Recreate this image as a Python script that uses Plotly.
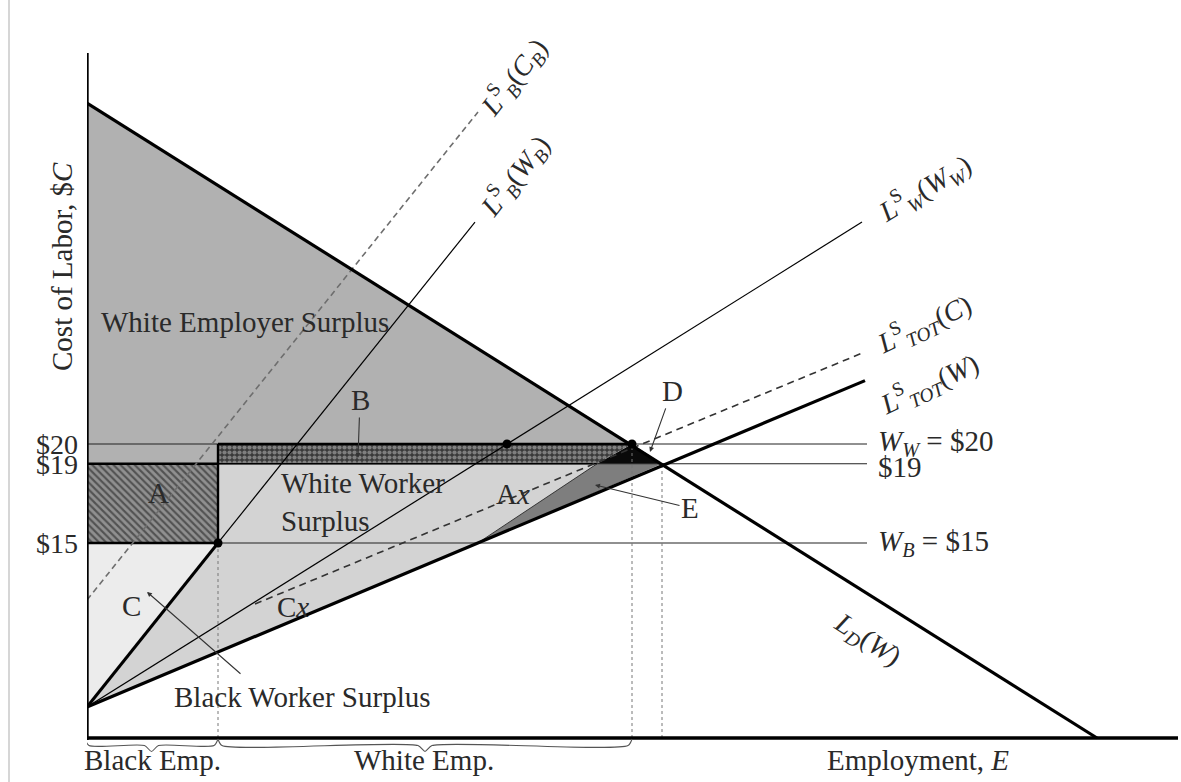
import numpy as np
import plotly.graph_objects as go

# ---------------- data (cost in $, employment in arbitrary units) ----------------
C_AXIS = 5.15          # cost level at which the employment axis is drawn
C_TOP = 39.75          # top of the cost axis
E_RIGHT = 54.55        # right end of the employment axis

wage_levels = [20, 19, 15]
wage_tick_text = ["$20", "$19", "$15"]
wage_right_text = ["<i>W<sub>W</sub></i> = $20", "$19", "<i>W<sub>B</sub></i> = $15"]
wage_right_pos = [20.05, 18.85, 15.0]
E_wage_line_end = 39.0

E_black = 6.55         # black employment
E_white = 27.25        # demand meets $20
E_total = 28.75        # demand meets $19
E_d = 25.5             # L_TOT(C) meets $19

demand_E = [0.0, 50.5]
demand_C = [37.22, 5.15]

LBW_E = [0.0, 6.55, 19.4]       # L_B^S(W_B)
LBW_C = [6.72, 15.0, 31.21]
LBC_E = [0.0, 19.55]            # L_B^S(C_B)
LBC_C = [12.12, 36.77]
LW_E = [0.0, 38.75]             # L_W^S(W_W)
LW_C = [6.72, 31.21]
LTW_E = [0.0, 38.9]             # L_TOT^S(W)
LTW_C = [6.72, 23.2]
LTC_E = [8.4, 38.9]             # L_TOT^S(C)
LTC_C = [11.92, 24.65]

dots_E = [6.55, 21.0, 27.25]
dots_C = [15.0, 20.0, 20.0]

# apex of the "Ax" triangle: where L_TOT^S(W) meets $15
E_ax = float(np.interp(15.0, LTW_C, LTW_E))

FONT = "Liberation Serif"
TXT = "#2a2a2a"
FS = 29
FS_CURVE = 28

fig = go.Figure()


def poly(xs, ys, color, pattern=None):
    kw = dict(x=xs + [xs[0]], y=ys + [ys[0]], mode="lines", fill="toself",
              fillcolor=color, line=dict(width=0), hoverinfo="skip")
    if pattern:
        kw["fillpattern"] = pattern
    fig.add_trace(go.Scatter(**kw))


def line(xs, ys, width=1.2, color="black", dash=None, shape="linear"):
    fig.add_trace(go.Scatter(x=xs, y=ys, mode="lines",
                             line=dict(width=width, color=color, dash=dash, shape=shape,
                                       smoothing=0.7),
                             hoverinfo="skip"))


# ---------------- shaded areas ----------------
# White employer surplus
poly([0, E_white, E_black, E_black, 0], [demand_C[0], 20, 20, 19, 19], "#b1b1b1")
# C: light triangle (black worker surplus)
poly([0, E_black, 0], [15, 15, LBW_C[0]], "#ececec")
# White worker surplus (and black worker surplus between supplies)
poly([0, E_black, E_black, E_d, E_ax], [LTW_C[0], 15, 19, 19, 15], "#d3d3d3")
# E: dark triangle
poly([E_ax, E_d, E_total], [15, 19, 19], "#7e7e7e")
# D: black triangle
poly([E_d, E_white, E_total], [19, 20, 19], "#0a0a0a")
# A: hatched rectangle
poly([0, E_black, E_black, 0], [19, 19, 15, 15], "#8a8a8a",
     pattern=dict(shape="\\", bgcolor="#909090", fgcolor="#141414", size=5, solidity=0.42))
# B: dotted band
poly([E_black, E_white, E_d, E_black], [20, 20, 19, 19], "#3a3a3a",
     pattern=dict(shape=".", bgcolor="#3a3a3a", fgcolor="#c4c4c4", size=5, solidity=0.55))

# ---------------- guide lines ----------------
for w in wage_levels:
    line([0, E_wage_line_end], [w, w], width=1.1, color="#222")

line([E_black, E_black], [C_AXIS, 15], width=1, color="#777", dash="dot")
line([E_white, E_white], [C_AXIS, 20], width=1, color="#777", dash="dot")
line([E_total, E_total], [C_AXIS, 19], width=1, color="#777", dash="dot")

# borders of A and B
line([0, E_black], [19, 19], width=2.4)
line([0, E_black], [15, 15], width=2.4)
line([E_black, E_black], [15, 20], width=2.4)
line([E_black, E_white], [20, 20], width=2.6)
line([E_black, E_d], [19, 19], width=1.6)
line([E_ax, E_d], [15, 19], width=1.0, color="#333")

# ---------------- curves ----------------
line(LBC_E, LBC_C, width=1.6, color="#6e6e6e", dash="6px,4px")
line(LTC_E, LTC_C, width=1.6, color="#333", dash="7px,5px")
line(LW_E, LW_C, width=1.2)
line(LBW_E[:2], LBW_C[:2], width=3)
line(LBW_E[1:], LBW_C[1:], width=1.2)
line(LTW_E, LTW_C, width=3.2)
line(demand_E, demand_C, width=3.2)

# axes
line([0, 0], [C_AXIS - 0.1, C_TOP], width=3.4)
line([0, E_RIGHT], [C_AXIS, C_AXIS], width=3.4)


# braces under the employment axis
def brace(e0, e1):
    m = (e0 + e1) / 2
    ca, cb, cc = C_AXIS - 0.05, C_AXIS - 0.38, C_AXIS - 0.68
    xs = [e0, e0 + 0.2, m - 0.35, m, m + 0.35, e1 - 0.2, e1]
    ys = [ca, cb, cb, cc, cb, cb, ca]
    line(xs, ys, width=1.1, color="#555", shape="spline")


brace(-0.1, E_black)
brace(E_black, E_white)

# points
fig.add_trace(go.Scatter(x=dots_E, y=dots_C, mode="markers",
                         marker=dict(size=9, color="black"), hoverinfo="skip"))

# ---------------- text ----------------
ann = []


def txt(x, y, s, size=FS, angle=0, xanchor="center", yanchor="middle", xref="x", yref="y",
        align="center"):
    ann.append(dict(x=x, y=y, text=s, showarrow=False, textangle=angle, xanchor=xanchor,
                    yanchor=yanchor, xref=xref, yref=yref, align=align,
                    font=dict(family=FONT, size=size, color=TXT)))


def arrow(x, y, ax, ay, s=""):
    ann.append(dict(x=x, y=y, ax=ax, ay=ay, axref="x", ayref="y", xref="x", yref="y",
                    text=s, showarrow=True, arrowhead=2, arrowsize=0.9, arrowwidth=1.1,
                    arrowcolor="#333", font=dict(family=FONT, size=FS, color=TXT)))


txt(7.9, 26.16, "White Employer Surplus")
txt(9.6, 17.07, "White Worker<br>Surplus", xanchor="left", align="left")
txt(3.55, 17.53, "A")
txt(21.3, 17.47, "A<i>x</i>")
txt(10.3, 11.77, "C<i>x</i>")
txt(2.2, 11.82, "C")
txt(10.75, 7.22, "Black Worker Surplus")
arrow(13.55, 19.3, 13.65, 22.22, "B")
arrow(28.15, 19.6, 29.25, 22.68, "D")
arrow(25.4, 17.93, 30.15, 16.77, "E")
arrow(3.0, 12.53, 7.75, 8.33, "")

for s, c in zip(wage_right_text, wage_right_pos):
    txt(39.45, c, s, xanchor="left")

txt(21.35, 38.5, "<i>L</i><sup>S</sup><sub><i>B</i></sub>(<i>C<sub>B</sub></i>)", size=FS_CURVE, angle=-52)
txt(21.4, 33.5, "<i>L</i><sup>S</sup><sub><i>B</i></sub>(<i>W<sub>B</sub></i>)", size=FS_CURVE, angle=-52)
txt(41.9, 32.9, "<i>L</i><sup>S</sup><sub><i>W</i></sub>(<i>W<sub>W</sub></i>)", size=FS_CURVE, angle=-31)
txt(41.85, 26.05, "<i>L</i><sup>S</sup><sub><i>TOT</i></sub>(<i>C</i>)", size=FS_CURVE, angle=-25)
txt(42.1, 23.0, "<i>L</i><sup>S</sup><sub><i>TOT</i></sub>(<i>W</i>)", size=FS_CURVE, angle=-25)
txt(39.0, 10.1, "<i>L<sub>D</sub></i>(<i>W</i>)", size=FS_CURVE, angle=33)

txt(41.55, 4.04, "Employment, <i>E</i>")
txt(3.25, 4.04, "Black Emp.")
txt(16.85, 4.04, "White Emp.")
txt(-25 / 1094, 28.94, "Cost of Labor, $<i>C</i>", angle=-90, xref="paper")

fig.update_layout(
    width=1181, height=782,
    margin=dict(l=87, r=0, t=0, b=0),
    plot_bgcolor="white", paper_bgcolor="white",
    showlegend=False,
    annotations=ann,
    xaxis=dict(range=[0, 54.7], visible=False, fixedrange=True),
    yaxis=dict(range=[2.929, 42.424], showgrid=False, zeroline=False, showline=False,
               tickvals=wage_levels, ticktext=wage_tick_text, ticks="",
               ticklabelstandoff=8, fixedrange=True,
               tickfont=dict(family=FONT, size=28, color=TXT)),
    shapes=[dict(type="line", xref="paper", yref="paper", x0=-78 / 1094, x1=-78 / 1094,
                 y0=0, y1=1, line=dict(color="#c8c8c8", width=1.5))],
)

fig.write_html("out.html", config={"displayModeBar": False},
               post_script="document.body.style.margin='0px';document.body.style.overflow='hidden';")
